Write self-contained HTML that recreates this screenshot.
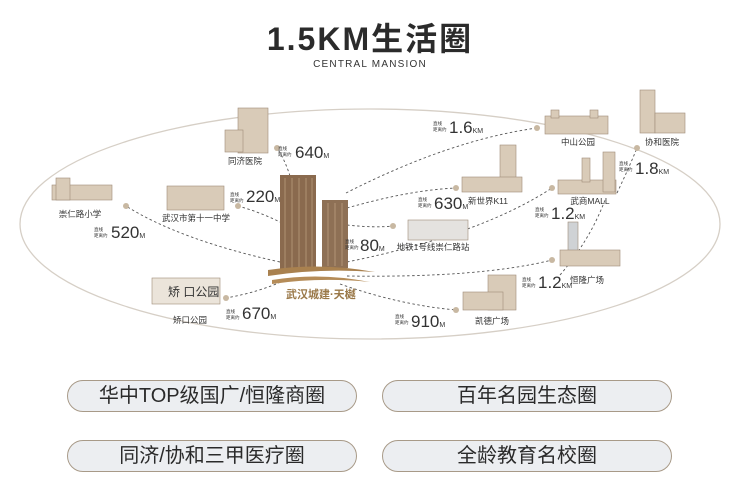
<!DOCTYPE html>
<html><head><meta charset="utf-8"><style>
html,body{margin:0;padding:0;background:#fff;}
body{width:740px;height:504px;overflow:hidden;position:relative;font-family:"Liberation Sans","Noto Sans CJK SC",sans-serif;}
.pill{position:absolute;width:288px;height:30px;border:1.5px solid #a89a88;border-radius:16px;background:#eceef1;text-align:center;line-height:30px;font-size:20px;color:#2a2a2a;box-sizing:content-box;}
</style></head><body>
<div style="position:absolute;left:0;width:740px;top:14px;text-align:center;font-size:32px;font-weight:bold;color:#2b2b2b;letter-spacing:2px;">1.5KM生活圈</div>
<div style="position:absolute;left:0;width:740px;top:59px;text-align:center;font-size:10px;color:#333;letter-spacing:1.2px;">CENTRAL MANSION</div>

<svg width="740" height="504" style="position:absolute;left:0;top:0" font-family="Liberation Sans,Noto Sans CJK SC,sans-serif">
<ellipse cx="370" cy="224" rx="350" ry="115" fill="none" stroke="#d6cfc6" stroke-width="1.3"/>
<g stroke="#555" stroke-width="0.9" stroke-dasharray="2.5,2.5" fill="none">
<path d="M290 176 Q285 160 277 148"/>
<path d="M282 223 Q260 212 238 206"/>
<path d="M280 262 Q180 240 126 206"/>
<path d="M285 280 Q260 292 226 298"/>
<path d="M346 193 Q450 140 537 128"/>
<path d="M347 208 Q410 190 456 188"/>
<path d="M347 225 Q375 228 393 226"/>
<path d="M347 262 Q480 235 552 188"/>
<path d="M347 276 Q480 278 552 260"/>
<path d="M340 284 Q400 305 456 310"/>
<path d="M617 193 Q628 170 637 148"/>
<path d="M560 275 Q590 240 605 200"/>
</g>
<g fill="#c8b8a2">
<circle cx="277" cy="148" r="3"/><circle cx="238" cy="206" r="3"/><circle cx="126" cy="206" r="3"/><circle cx="226" cy="298" r="3"/>
<circle cx="537" cy="128" r="3"/><circle cx="456" cy="188" r="3"/><circle cx="393" cy="226" r="3"/><circle cx="552" cy="188" r="3"/>
<circle cx="552" cy="260" r="3"/><circle cx="456" cy="310" r="3"/><circle cx="637" cy="148" r="3"/>
</g>
<g fill="#d9cbb8" stroke="#9e8c78" stroke-width="0.6">
<rect x="238" y="108" width="30" height="45"/><rect x="225" y="130" width="18" height="22"/>
<rect x="52" y="185" width="60" height="15"/><rect x="56" y="178" width="14" height="22"/>
<rect x="167" y="186" width="57" height="24"/>
<rect x="152" y="278" width="68" height="26" fill="#ebe4da"/>
<rect x="545" y="116" width="63" height="18"/><rect x="551" y="110" width="8" height="8"/><rect x="590" y="110" width="8" height="8"/>
<rect x="640" y="90" width="15" height="43"/><rect x="655" y="113" width="30" height="20"/>
<rect x="500" y="145" width="16" height="45"/><rect x="462" y="177" width="60" height="15"/>
<rect x="408" y="220" width="60" height="20" fill="#e4e2df"/>
<rect x="558" y="180" width="58" height="14"/><rect x="582" y="158" width="8" height="24"/><rect x="603" y="152" width="12" height="40"/>
<rect x="568" y="222" width="10" height="34" fill="#cfd2d5"/><rect x="560" y="250" width="60" height="16"/>
<rect x="488" y="275" width="28" height="35"/><rect x="463" y="292" width="40" height="18"/>
</g>
<text x="168" y="296" font-size="12" fill="#333">矫 口公园</text>
<rect x="280" y="175" width="36" height="95" fill="#8a6a4e"/>
<rect x="322" y="200" width="26" height="68" fill="#8e7055"/>
<g stroke="#c9ad8c" stroke-width="0.6">
<line x1="285" y1="178" x2="285" y2="268"/><line x1="292" y1="178" x2="292" y2="268"/><line x1="299" y1="178" x2="299" y2="268"/><line x1="306" y1="178" x2="306" y2="268"/><line x1="312" y1="178" x2="312" y2="268"/>
<line x1="328" y1="203" x2="328" y2="266"/><line x1="335" y1="203" x2="335" y2="266"/><line x1="342" y1="203" x2="342" y2="266"/>
</g>
<path d="M268 270 Q320 262 375 272 Q320 268 268 276Z" fill="#a9814f"/>
<path d="M272 280 Q320 272 370 282 Q320 277 272 284Z" fill="#b58c58"/>
<text x="286" y="298" font-size="11" font-weight="bold" fill="#9a7848">武汉城建·天樾</text>
<g font-size="8.5" fill="#333" text-anchor="middle">
<text x="245" y="164">同济医院</text>
<text x="80" y="217">崇仁路小学</text>
<text x="196" y="221">武汉市第十一中学</text>
<text x="190" y="323">矫口公园</text>
<text x="578" y="145">中山公园</text>
<text x="662" y="145">协和医院</text>
<text x="488" y="204">新世界K11</text>
<text x="433" y="250">地铁1号线崇仁路站</text>
<text x="590" y="204">武商MALL</text>
<text x="587" y="283">恒隆广场</text>
<text x="492" y="324">凯德广场</text>
</g>
<g fill="#333">
<g font-size="4.5"><text x="278" y="150">直线</text><text x="278" y="156">距离约</text>
<text x="94" y="231">直线</text><text x="94" y="237">距离约</text>
<text x="230" y="196">直线</text><text x="230" y="202">距离约</text>
<text x="226" y="313">直线</text><text x="226" y="319">距离约</text>
<text x="433" y="125">直线</text><text x="433" y="131">距离约</text>
<text x="619" y="165">直线</text><text x="619" y="171">距离约</text>
<text x="418" y="201">直线</text><text x="418" y="207">距离约</text>
<text x="345" y="243">直线</text><text x="345" y="249">距离约</text>
<text x="535" y="211">直线</text><text x="535" y="217">距离约</text>
<text x="522" y="281">直线</text><text x="522" y="287">距离约</text>
<text x="395" y="318">直线</text><text x="395" y="324">距离约</text></g>
<g font-size="17">
<text x="295" y="158">640<tspan font-size="7">M</tspan></text>
<text x="111" y="238">520<tspan font-size="7">M</tspan></text>
<text x="246" y="202">220<tspan font-size="7">M</tspan></text>
<text x="242" y="319">670<tspan font-size="7">M</tspan></text>
<text x="449" y="133">1.6<tspan font-size="7">KM</tspan></text>
<text x="635" y="174">1.8<tspan font-size="7">KM</tspan></text>
<text x="434" y="209">630<tspan font-size="7">M</tspan></text>
<text x="360" y="251">80<tspan font-size="7">M</tspan></text>
<text x="551" y="219">1.2<tspan font-size="7">KM</tspan></text>
<text x="538" y="288">1.2<tspan font-size="7">KM</tspan></text>
<text x="411" y="327">910<tspan font-size="7">M</tspan></text>
</g></g>
</svg>

<div class="pill" style="left:67px;top:380px;">华中TOP级国广/恒隆商圈</div>
<div class="pill" style="left:382px;top:380px;">百年名园生态圈</div>
<div class="pill" style="left:67px;top:440px;">同济/协和三甲医疗圈</div>
<div class="pill" style="left:382px;top:440px;">全龄教育名校圈</div>
</body></html>
